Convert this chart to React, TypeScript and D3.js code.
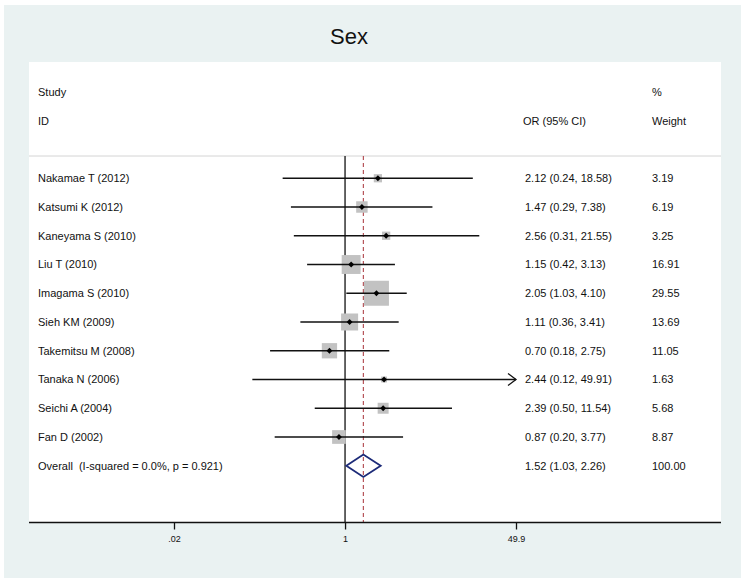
import React, { Component } from 'react';
import * as d3 from 'd3';

// study rows
const studies = [
    'Nakamae T (2012)',
    'Katsumi K (2012)',
    'Kaneyama S (2010)',
    'Liu T (2010)',
    'Imagama S (2010)',
    'Sieh KM (2009)',
    'Takemitsu M (2008)',
    'Tanaka N (2006)',
    'Seichi A (2004)',
    'Fan D (2002)',
];
const oddsRatios = [2.12, 1.47, 2.56, 1.15, 2.05, 1.11, 0.70, 2.44, 2.39, 0.87];
const lowerCI = [0.24, 0.29, 0.31, 0.42, 1.03, 0.36, 0.18, 0.12, 0.50, 0.20];
const upperCI = [18.58, 7.38, 21.55, 3.13, 4.10, 3.41, 2.75, 49.91, 11.54, 3.77];
const weights = [3.19, 6.19, 3.25, 16.91, 29.55, 13.69, 11.05, 1.63, 5.68, 8.87];

// pooled estimate
const overallLabel = 'Overall  (I-squared = 0.0%, p = 0.921)';
const overallOR = [1.52];
const overallCI = [1.03, 2.26];
const overallWeight = ['100.00'];

// axis
const tickValues = [0.02, 1, 49.9];
const tickLabels = ['.02', '1', '49.9'];

class App extends Component {
    canvas = React.createRef<HTMLDivElement>();

    componentDidMount() {
        document.body.style.margin = '0';
        this.draw();
    }

    draw() {
        const width = 747;
        const height = 584;
        const font = 'Liberation Sans, Arial, Helvetica, sans-serif';

        d3.select(this.canvas.current).selectAll('*').remove();
        const svg = d3.select(this.canvas.current).append('svg')
            .attr('width', width)
            .attr('height', height)
            .style('display', 'block')
            .style('font-family', font);

        // outer graph region and inner plot region
        const outer = { left: 4, top: 5, right: 741, bottom: 578 };
        const plot = { left: 29, top: 62, right: 721, bottom: 522.5 };

        svg.append('rect')
            .attr('x', outer.left).attr('y', outer.top)
            .attr('width', outer.right - outer.left).attr('height', outer.bottom - outer.top)
            .attr('fill', '#eaf2f2');
        svg.append('rect')
            .attr('x', plot.left).attr('y', plot.top)
            .attr('width', plot.right - plot.left).attr('height', plot.bottom - plot.top)
            .attr('fill', '#ffffff');

        svg.append('text')
            .attr('x', 349).attr('y', 44)
            .attr('text-anchor', 'middle')
            .attr('font-size', 22)
            .attr('fill', '#111')
            .text('Sex');

        // scales
        const x = d3.scaleLog()
            .domain([tickValues[0], tickValues[tickValues.length - 1]])
            .range([174, 516]);

        // row index -> y (0 Study, 1 ID, 2 blank, 3.. studies, last overall)
        const y = d3.scaleLinear()
            .domain([0, studies.length + 3])
            .range([92, 465.75]);

        const size = d3.scaleSqrt()
            .domain([0, 100])
            .range([0, 46]);

        const colStudy = 38;
        const colOR = 525;
        const colWeight = 652;
        const fs = 11;

        const label = (tx: number, ty: number, t: string) =>
            svg.append('text')
                .attr('x', tx).attr('y', ty)
                .attr('dy', '0.35em')
                .attr('font-size', fs)
                .attr('fill', '#111')
                .style('white-space', 'pre')
                .text(t);

        // headers
        label(colStudy, y(0), 'Study');
        label(colStudy, y(1), 'ID');
        label(colOR - 2, y(1), 'OR (95% CI)');
        label(colWeight, y(0), '%');
        label(colWeight, y(1), 'Weight');

        const sepY = 156;
        svg.append('line')
            .attr('x1', plot.left).attr('x2', plot.right)
            .attr('y1', sepY).attr('y2', sepY)
            .attr('stroke', '#d4d4d4')
            .attr('stroke-width', 1);

        // null line and overall effect line
        svg.append('line')
            .attr('x1', x(1)).attr('x2', x(1))
            .attr('y1', sepY).attr('y2', plot.bottom)
            .attr('stroke', '#222')
            .attr('stroke-width', 1.4);
        svg.append('line')
            .attr('x1', x(overallOR[0])).attr('x2', x(overallOR[0]))
            .attr('y1', sepY).attr('y2', plot.bottom)
            .attr('stroke', '#b0444a')
            .attr('stroke-width', 1.1)
            .attr('stroke-dasharray', '4,3');

        const maxX = x.domain()[1];
        const rows = svg.append('g');

        studies.forEach((name, i) => {
            const cy = y(i + 3);
            const hi = Math.min(upperCI[i], maxX);
            const s = size(weights[i]);

            rows.append('rect')
                .attr('x', x(oddsRatios[i]) - s / 2)
                .attr('y', cy - s / 2)
                .attr('width', s).attr('height', s)
                .attr('fill', '#c2c2c2');

            rows.append('line')
                .attr('x1', x(lowerCI[i])).attr('x2', x(hi))
                .attr('y1', cy).attr('y2', cy)
                .attr('stroke', '#111')
                .attr('stroke-width', 1.5);

            // arrow when the CI runs off the axis
            if (upperCI[i] > maxX) {
                rows.append('path')
                    .attr('d', `M${x(hi) - 8},${cy - 6}L${x(hi)},${cy}L${x(hi) - 8},${cy + 6}`)
                    .attr('fill', 'none')
                    .attr('stroke', '#111')
                    .attr('stroke-width', 1.3);
            }

            rows.append('path')
                .attr('d', d3.symbol(d3.symbolDiamond2, 22)())
                .attr('transform', `translate(${x(oddsRatios[i])},${cy})`)
                .attr('fill', '#000');

            label(colStudy, cy, name);
            label(colOR, cy, `${oddsRatios[i].toFixed(2)} (${lowerCI[i].toFixed(2)}, ${upperCI[i].toFixed(2)})`);
            label(colWeight, cy, weights[i].toFixed(2));
        });

        // overall diamond
        const oy = y(studies.length + 3);
        const dh = 11.2;
        svg.append('path')
            .attr('d', `M${x(overallCI[0])},${oy}L${x(overallOR[0])},${oy - dh}L${x(overallCI[1])},${oy}L${x(overallOR[0])},${oy + dh}Z`)
            .attr('fill', 'none')
            .attr('stroke', '#1c2a78')
            .attr('stroke-width', 1.8);

        label(colStudy, oy, overallLabel);
        label(colOR, oy, `${overallOR[0].toFixed(2)} (${overallCI[0].toFixed(2)}, ${overallCI[1].toFixed(2)})`);
        label(colWeight, oy, overallWeight[0]);

        // x axis
        const xAxisGroup = svg.append('g')
            .attr('transform', `translate(0,${plot.bottom})`);
        const xAxis = d3.axisBottom(x)
            .tickValues(tickValues)
            .tickFormat((d, i) => tickLabels[i])
            .tickSize(7)
            .tickPadding(6);
        xAxisGroup.call(xAxis);
        xAxisGroup.select('.domain').remove();
        xAxisGroup.selectAll('line').attr('stroke', '#111').attr('stroke-width', 1.3);
        xAxisGroup.selectAll('text')
            .attr('font-size', 9)
            .attr('font-family', font)
            .attr('fill', '#111');

        svg.append('line')
            .attr('x1', plot.left).attr('x2', plot.right)
            .attr('y1', plot.bottom).attr('y2', plot.bottom)
            .attr('stroke', '#111')
            .attr('stroke-width', 1.5);
    }

    render() {
        return (
            <div className="canvas" ref={this.canvas}></div>
        );
    }
}

export default App;
